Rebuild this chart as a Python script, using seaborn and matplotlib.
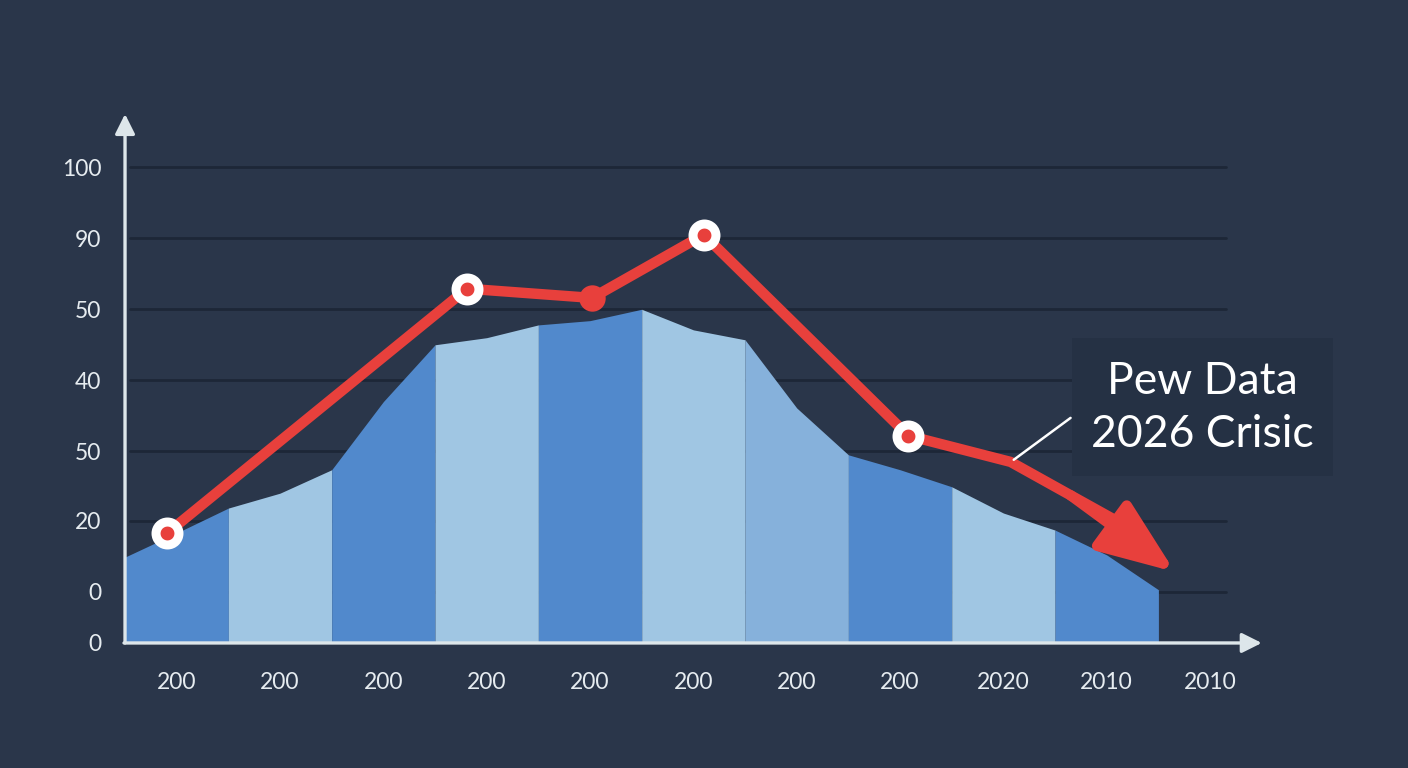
import numpy as np
import pandas as pd
import seaborn as sns
import matplotlib.pyplot as plt
from matplotlib.patches import Rectangle

# dados
area_x = [0, 0.5, 1, 1.5, 2, 2.5, 3, 3.5, 4, 4.5, 5, 5.5, 6, 6.5, 7, 7.5, 8, 8.5, 9, 9.5, 10]
area_y = [12.1, 15.5, 19.0, 21.1, 24.4, 34.0, 42.0, 43.0, 44.8, 45.4, 47.0, 44.1, 42.7,
          33.1, 26.5, 24.4, 22.0, 18.3, 15.9, 12.4, 7.5]
faixa_cores = ['#5189cc', '#a0c6e3', '#5189cc', '#a0c6e3', '#5189cc',
               '#a0c6e3', '#86b1db', '#5189cc', '#a0c6e3', '#5189cc']

linha_x = [0.41, 3.31, 4.52, 5.60, 7.58, 8.57, 9.15, 9.62]
linha_y = [15.5, 49.9, 48.6, 57.5, 29.2, 25.5, 20.8, 17.0]
seta_fim = (10.16, 10.0)
marc_anel = [0, 1, 3, 4]
marc_cheio = [2]

ytick_pos = [0, 7.2, 17.2, 27, 37, 47, 57, 67]
ytick_lab = ['0', '0', '20', '50', '40', '50', '90', '100']
xtick_pos = [0.5 + i for i in range(11)]
xtick_lab = ['200', '200', '200', '200', '200', '200', '200', '200', '2020', '2010', '2010']

bg = '#2a364a'
txt = '#e6ecf0'
red = '#e8403c'

sns.set_theme(style='dark')
plt.rcParams['font.family'] = ['Lato', 'DejaVu Sans']

fig = plt.figure(figsize=(14.08, 7.68), dpi=100, facecolor=bg)
ax = fig.add_axes([0.0888, 0.1628, 0.8220, 0.7026])
ax.set_facecolor(bg)
ax.set_xlim(0, 11.2)
ax.set_ylim(0, 76)
for s in ax.spines.values():
    s.set_visible(False)

# linhas de grade
for y in ytick_pos[1:]:
    ax.plot([0.05, 10.65], [y, y], color='#1d2737', lw=2, zorder=1)

# faixas da area
for i in range(10):
    xs = area_x[2 * i:2 * i + 3]
    ys = area_y[2 * i:2 * i + 3]
    ax.fill_between(xs, 0, ys, color=faixa_cores[i], lw=0, zorder=2)

# linha vermelha
df = pd.DataFrame({'x': linha_x, 'y': linha_y})
sns.lineplot(data=df, x='x', y='y', sort=False, color=red, lw=7.5, ax=ax, zorder=4,
             solid_capstyle='round', solid_joinstyle='round')
ax.annotate('', xy=seta_fim, xytext=(linha_x[-2], linha_y[-2]),
            arrowprops=dict(arrowstyle='-|>,head_length=0.46,head_width=0.18',
                            mutation_scale=100, color=red, lw=7.5,
                            shrinkA=0, shrinkB=0), zorder=4)

anel = df.iloc[marc_anel]
sns.scatterplot(data=anel, x='x', y='y', s=16.5 ** 2, color=red, edgecolor='white',
                linewidth=6.5, ax=ax, zorder=5)
cheio = df.iloc[marc_cheio]
sns.scatterplot(data=cheio, x='x', y='y', s=19 ** 2, color=red, edgecolor=red,
                linewidth=0, ax=ax, zorder=5)

# eixos com setas
ax.annotate('', xy=(0, 74.5), xytext=(0, 0),
            arrowprops=dict(arrowstyle='-|>,head_length=0.6,head_width=0.3',
                            mutation_scale=20, color='#dde6ea', lw=2.4,
                            shrinkA=0, shrinkB=0), zorder=6, annotation_clip=False)
ax.annotate('', xy=(11.0, 0), xytext=(-0.01, 0),
            arrowprops=dict(arrowstyle='-|>,head_length=0.6,head_width=0.3',
                            mutation_scale=20, color='#dde6ea', lw=2.4,
                            shrinkA=0, shrinkB=0), zorder=6, annotation_clip=False)

ax.set_yticks(ytick_pos)
ax.set_yticklabels(ytick_lab, color=txt, fontsize=16.5)
ax.set_xticks(xtick_pos)
ax.set_xticklabels(xtick_lab, color=txt, fontsize=16.5)
ax.tick_params(axis='y', length=0, pad=17)
ax.tick_params(axis='x', length=0, pad=21)
ax.set_xlabel('')
ax.set_ylabel('')
ax.grid(False)

# caixa de anotacao
fig.patches.append(Rectangle((0.7614, 0.3802), 0.1853, 0.1797, transform=fig.transFigure,
                             facecolor='#253144', edgecolor='none', zorder=3))
fig.text(0.854, 0.503, 'Pew Data', color='white', fontsize=32, ha='center', va='center', zorder=7)
fig.text(0.854, 0.434, '2026 Crisic', color='white', fontsize=32, ha='center', va='center', zorder=7)
ax.plot([8.6, 9.15], [25.8, 31.7], color='white', lw=1.8, zorder=6)

plt.savefig('out.png', dpi=100, facecolor=bg)
